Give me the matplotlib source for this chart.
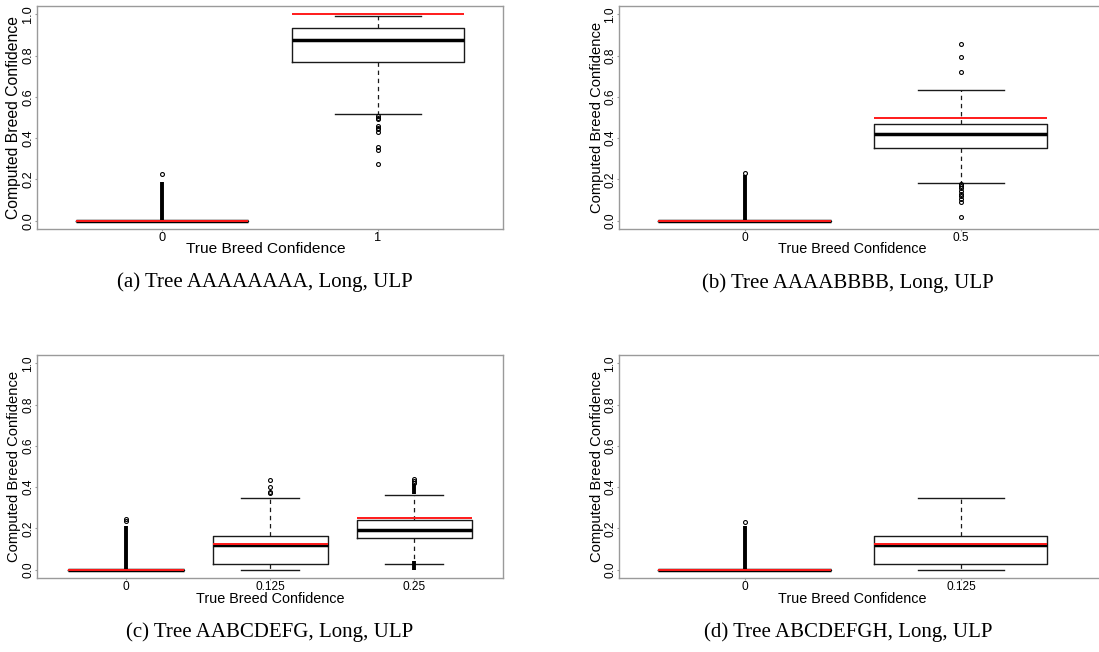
import matplotlib
matplotlib.use("Agg")
import matplotlib.pyplot as plt

# ---------------- data ----------------
# Panel (a) Tree AAAAAAAA
labels_a = ["0", "1"]
true_a = [0.0, 1.0]
whislo_a = [0.0, 0.518]
q1_a = [0.0, 0.770]
med_a = [0.0, 0.875]
q3_a = [0.0, 0.932]
whishi_a = [0.0, 0.992]
fliers_a = [[0.228],
            [0.506, 0.500, 0.494, 0.458, 0.450, 0.442, 0.429, 0.358, 0.341, 0.277]]
dense_a = [(0.0, 0.186), None]          # ranges packed with overlapping outliers

# Panel (b) Tree AAAABBBB
labels_b = ["0", "0.5"]
true_b = [0.0, 0.5]
whislo_b = [0.0, 0.184]
q1_b = [0.0, 0.353]
med_b = [0.0, 0.421]
q3_b = [0.0, 0.468]
whishi_b = [0.0, 0.631]
fliers_b = [[0.231],
            [0.858, 0.793, 0.722, 0.178, 0.170, 0.159, 0.142, 0.131, 0.118, 0.107, 0.091, 0.016]]
dense_b = [(0.0, 0.222), None]

# Panel (c) Tree AABCDEFG
labels_c = ["0", "0.125", "0.25"]
true_c = [0.0, 0.125, 0.25]
whislo_c = [0.0, 0.0, 0.029]
q1_c = [0.0, 0.029, 0.155]
med_c = [0.0, 0.122, 0.194]
q3_c = [0.0, 0.165, 0.239]
whishi_c = [0.0, 0.348, 0.360]
fliers_c = [[0.234, 0.245],
            [0.371, 0.376, 0.403, 0.435],
            [0.440, 0.432, 0.420]]
dense_c = [(0.0, 0.210), None, [(0.365, 0.415), (0.0, 0.040)]]

# Panel (d) Tree ABCDEFGH
labels_d = ["0", "0.125"]
true_d = [0.0, 0.125]
whislo_d = [0.0, 0.0]
q1_d = [0.0, 0.027]
med_d = [0.0, 0.118]
q3_d = [0.0, 0.165]
whishi_d = [0.0, 0.348]
fliers_d = [[0.232], []]
dense_d = [(0.0, 0.212), None]

captions = ["(a) Tree AAAAAAAA, Long, ULP", "(b) Tree AAAABBBB, Long, ULP",
            "(c) Tree AABCDEFG, Long, ULP", "(d) Tree ABCDEFGH, Long, ULP"]
yticks = [0.0, 0.2, 0.4, 0.6, 0.8, 1.0]
xlabel = "True Breed Confidence"
ylabel = "Computed Breed Confidence"

# ---------------- drawing ----------------
W, H = 1099, 652
fig = plt.figure(figsize=(W / 100, H / 100), dpi=100)
SANS = ["Liberation Sans", "DejaVu Sans"]
SERIF = ["Liberation Serif", "DejaVu Serif"]
SPINE = "#9a9a9a"


def px_axes(l, t, r, b):
    return fig.add_axes([l / W, 1 - b / H, (r - l) / W, (b - t) / H])


def panel(ax, labels, true, wlo, q1, med, q3, whi, fliers, dense, xlim,
          xlab_xy, ylab_x, fs_scale=1.0):
    n = len(labels)
    pos = list(range(1, n + 1))
    stats = []
    for i in range(n):
        stats.append(dict(med=med[i], q1=q1[i], q3=q3[i], whislo=wlo[i],
                          whishi=whi[i], fliers=fliers[i], label=labels[i]))
    ax.bxp(stats, positions=pos, widths=0.8, capwidths=0.4, showfliers=True,
           patch_artist=False,
           boxprops=dict(color="#1a1a1a", linewidth=1.0),
           medianprops=dict(color="black", linewidth=2.5, solid_capstyle="butt"),
           whiskerprops=dict(color="#1a1a1a", linewidth=0.9, linestyle=(0, (3.5, 3))),
           capprops=dict(color="#1a1a1a", linewidth=1.0),
           flierprops=dict(marker="o", markersize=2.8, markerfacecolor="none",
                           markeredgecolor="black", markeredgewidth=0.8,
                           linestyle="none"))
    for i, d in enumerate(dense):
        if d is None:
            continue
        ranges = d if isinstance(d, list) else [d]
        for lo, hi in ranges:
            ax.vlines(pos[i], lo, hi, colors="black", linewidth=2.8, zorder=3)
    for i in range(n):
        ax.hlines(true[i], pos[i] - 0.4, pos[i] + 0.4, colors="#ff1a1a",
                  linewidth=1.4, zorder=6)
    ax.set_xlim(*xlim)
    ax.set_ylim(-0.04, 1.04)
    ax.set_xticks(pos)
    ax.set_xticklabels(labels, fontsize=8.6 * fs_scale, family=SANS)
    ax.set_yticks(yticks)
    ax.set_yticklabels([f"{v:.1f}" for v in yticks], fontsize=8.6 * fs_scale,
                       family=SANS, rotation=90, va="center")
    ax.tick_params(length=1.2, width=0.8, color=SPINE, pad=0.8)
    for s in ax.spines.values():
        s.set_color(SPINE)
        s.set_linewidth(1.0)
    ax.set_xlabel(xlabel, fontsize=10.4 * fs_scale, family=SANS, labelpad=0)
    ax.set_ylabel(ylabel, fontsize=10.6 * fs_scale, family=SANS, labelpad=0)
    ax.xaxis.set_label_coords(*xlab_xy)
    ax.yaxis.set_label_coords(ylab_x, 0.5)


ax_a = px_axes(37, 6, 503, 229)
ax_b = px_axes(619, 6, 1102, 229)
ax_c = px_axes(37, 355, 503, 578)
ax_d = px_axes(619, 355, 1102, 578)

panel(ax_a, labels_a, true_a, whislo_a, q1_a, med_a, q3_a, whishi_a, fliers_a,
      dense_a, (0.42, 2.58), (0.49, -0.058), -0.034, fs_scale=1.07)
panel(ax_b, labels_b, true_b, whislo_b, q1_b, med_b, q3_b, whishi_b, fliers_b,
      dense_b, (0.42, 2.652), (0.482, -0.058), -0.031)
panel(ax_c, labels_c, true_c, whislo_c, q1_c, med_c, q3_c, whishi_c, fliers_c,
      dense_c, (0.382, 3.616), (0.5, -0.064), -0.034)
panel(ax_d, labels_d, true_d, whislo_d, q1_d, med_d, q3_d, whishi_d, fliers_d,
      dense_d, (0.42, 2.652), (0.482, -0.064), -0.031)

cap_pos = [(265, 287), (848, 288), (270, 637), (848, 637)]
for txt, (x, y) in zip(captions, cap_pos):
    fig.text(x / W, 1 - y / H, txt, ha="center", va="baseline",
             fontsize=15.0, family=SERIF)

fig.savefig("out.png", dpi=100)
